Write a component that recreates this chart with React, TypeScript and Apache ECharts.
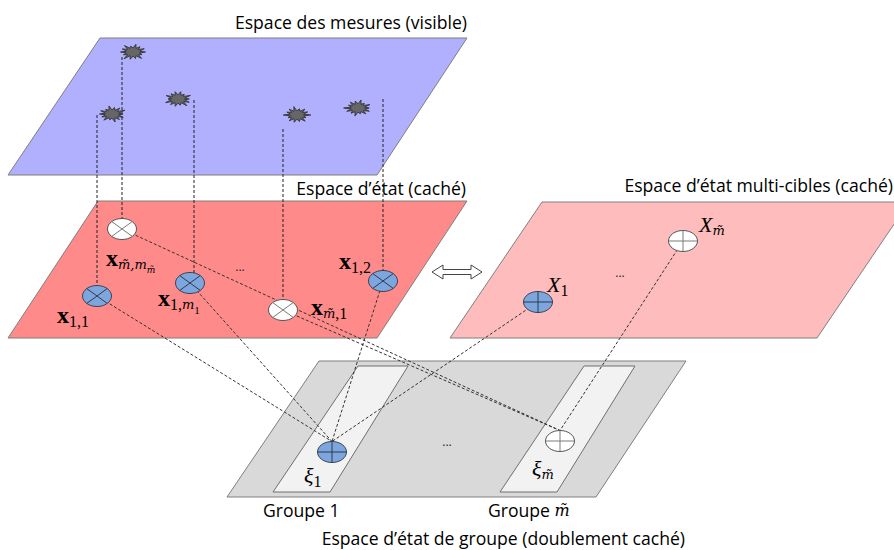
import { useEffect, useRef } from "react";
import * as echarts from "echarts";

// ---- diagram data (in the hidden 894 x 550 value space) ----
const PLANE_NAMES = ["mesures", "etat", "multi", "groupe", "strip1", "strip2"];
const PLANE_POINTS = [
  [[100, 38], [467, 38], [377, 175], [8, 175]],
  [[98, 201], [467, 201], [377, 338], [8, 338]],
  [[542, 202], [909, 202], [817, 338], [450, 338]],
  [[319, 361], [686, 361], [596, 497], [227, 497]],
  [[358, 366], [408, 366], [330, 492], [273, 492]],
  [[584, 366], [635, 366], [557, 492], [500, 492]],
];

const MEASURES = [[133, 52], [178, 99], [112, 114], [297, 115], [358, 108]];

// x, top y, bottom y of vertical projection lines
const PROJECTIONS = [[97, 115, 296], [122, 57, 229], [194, 100, 276], [283, 129, 310], [383, 99, 281]];

const NODE_IDS = ["xmm", "x11", "x1m", "xm1", "x12", "X1", "Xm", "xi1", "xim"];
const NODE_POS = [[122, 229], [97, 296], [190, 283], [283, 310], [383, 281], [538, 302], [683, 241], [332, 452], [560, 441]];
const EDGES = [["x11", "xi1"], ["x1m", "xi1"], ["x12", "xi1"], ["X1", "xi1"], ["xmm", "xim"], ["xm1", "xim"], ["Xm", "xim"]];

const ARROW = [[432, 272], [443, 265], [443, 269.5], [471, 269.5], [471, 265], [482, 272], [471, 279], [471, 274.5], [443, 274.5], [443, 279]];

const TITLES = ["Espace des mesures (visible)", "Espace d\u2019\u00e9tat (caché)", "Espace d\u2019\u00e9tat multi-cibles (caché)", "Espace d\u2019\u00e9tat de groupe (doublement caché)"];
const TITLE_ANCHORS = [[467, 22], [466, 188], [893, 185], [685, 538]];

const GROUP_LABELS = ["Groupe 1", "Groupe {mi|m\u0303}"];
const GROUP_ANCHORS = [[263, 510], [488, 510]];

const MATH_LABELS = [
  "{b|x}{s|1,1}",
  "{b|x}{s|1,}{si|m}{ss|1}",
  "{b|x}{s|1,2}",
  "{b|x}{si|m\u0303}{s|,1}",
  "{b|x}{si|m\u0303,m}{ssi|m\u0303}",
  "{I|X}{s|1}",
  "{I|X}{si|m\u0303}",
  "{I|\u03be}{s|1}",
  "{I|\u03be}{si|m\u0303}",
];
const MATH_ANCHORS = [[57, 315], [158, 298], [339, 261], [311, 307], [106, 258], [547, 284], [699, 224], [304, 475], [532, 468]];

const DOTS = [[240, 266], [620, 272], [447, 441]];

// ---- styles ----
const PLANE_FILL: Record<string, string> = {
  mesures: "#b0b0fe",
  etat: "#fe8a8a",
  multi: "#ffbcbc",
  groupe: "#d9d9d9",
  strip1: "#f2f2f2",
  strip2: "#f2f2f2",
};
const BLUE_NODES = new Set(["x11", "x1m", "x12", "X1", "xi1"]);
const OTIMES_NODES = new Set(["xmm", "x11", "x1m", "xm1", "x12"]);
const RX = 14.5;
const RY = 10.5;
const SERIF = "'Liberation Serif', 'DejaVu Serif', serif";
const DSERIF = "'DejaVu Serif', 'Liberation Serif', serif";
const SANS = "'Open Sans', 'Liberation Sans', sans-serif";

const RICH = {
  b: { fontFamily: SERIF, fontWeight: "bold", fontSize: 24, color: "#000" },
  s: { fontFamily: SERIF, fontSize: 16, padding: [12, 0, 0, 0], color: "#000" },
  si: { fontFamily: DSERIF, fontStyle: "italic", fontSize: 13, padding: [12, 0, 0, 0], color: "#000" },
  ss: { fontFamily: SERIF, fontSize: 11, padding: [24, 0, 0, 0], color: "#000" },
  ssi: { fontFamily: DSERIF, fontStyle: "italic", fontSize: 9, padding: [24, 0, 0, 0], color: "#000" },
  I: { fontFamily: SERIF, fontStyle: "italic", fontSize: 22, color: "#000" },
  mi: { fontFamily: DSERIF, fontStyle: "italic", fontSize: 16, color: "#000" },
};

const JAG = [1, 0.8, 1.1, 0.9, 1, 1.15, 0.85, 1, 0.95, 1.1, 0.8, 1.05, 0.9, 1];

function nodePos(id: string) {
  return NODE_POS[NODE_IDS.indexOf(id)];
}

export default function App() {
  const ref = useRef<HTMLDivElement>(null);
  useEffect(() => {
    if (!ref.current) return;
    const chart = echarts.init(ref.current, undefined, { renderer: "svg" });
    const idx = (arr: any[]) => arr.map((_, i) => [i, 0]);
    const option: any = {
      animation: false,
      backgroundColor: "#ffffff",
      grid: { left: 0, right: 0, top: 0, bottom: 0, containLabel: false },
      xAxis: { type: "value", min: 0, max: 894, show: false },
      yAxis: { type: "value", min: 0, max: 550, inverse: true, show: false },
      series: [
        {
          type: "custom",
          name: "planes",
          coordinateSystem: "cartesian2d",
          clip: false,
          silent: true,
          z: 1,
          data: idx(PLANE_POINTS),
          renderItem: (params: any, api: any) => {
            const i = params.dataIndex;
            return {
              type: "polygon",
              shape: { points: PLANE_POINTS[i].map((p) => api.coord(p)) },
              style: { fill: PLANE_FILL[PLANE_NAMES[i]], stroke: i >= 4 ? "#6f6f6f" : "#7f7f7f", lineWidth: 1 },
            };
          },
        },
        {
          type: "custom",
          name: "projections",
          coordinateSystem: "cartesian2d",
          clip: false,
          silent: true,
          z: 2,
          data: idx(PROJECTIONS),
          renderItem: (params: any, api: any) => {
            const [x, y0, y1] = PROJECTIONS[params.dataIndex];
            const a = api.coord([x, y0]);
            const b = api.coord([x, y1]);
            return {
              type: "line",
              shape: { x1: a[0], y1: a[1], x2: b[0], y2: b[1] },
              style: { stroke: "#222", lineWidth: 1, lineDash: [3, 2] },
            };
          },
        },
        {
          type: "custom",
          name: "edges",
          coordinateSystem: "cartesian2d",
          clip: false,
          silent: true,
          z: 2,
          data: idx(EDGES),
          renderItem: (params: any, api: any) => {
            const [s, t] = EDGES[params.dataIndex];
            const ps = nodePos(s);
            const pt = nodePos(t);
            const a = api.coord(ps);
            const b = api.coord([pt[0], pt[1] - RY]);
            return {
              type: "line",
              shape: { x1: a[0], y1: a[1], x2: b[0], y2: b[1] },
              style: { stroke: "#333", lineWidth: 1, lineDash: [3, 2] },
            };
          },
        },
        {
          type: "custom",
          name: "measures",
          coordinateSystem: "cartesian2d",
          clip: false,
          silent: true,
          z: 3,
          data: idx(MEASURES),
          renderItem: (params: any, api: any) => {
            const c = api.coord(MEASURES[params.dataIndex]);
            const n = 14;
            const pts: number[][] = [];
            for (let k = 0; k < 2 * n; k++) {
              const ang = (k * Math.PI) / n;
              const r = k % 2 === 0 ? JAG[(k / 2 + params.dataIndex * 3) % JAG.length] : 0.55;
              pts.push([c[0] + 12.5 * r * Math.cos(ang), c[1] + 7.5 * r * Math.sin(ang)]);
            }
            return {
              type: "polygon",
              shape: { points: pts },
              style: { fill: "#666666", stroke: "#2a2a2a", lineWidth: 0.8 },
            };
          },
        },
        {
          type: "custom",
          name: "nodes",
          coordinateSystem: "cartesian2d",
          clip: false,
          silent: true,
          z: 4,
          data: idx(NODE_IDS),
          renderItem: (params: any, api: any) => {
            const id = NODE_IDS[params.dataIndex];
            const c = api.coord(NODE_POS[params.dataIndex]);
            const blue = BLUE_NODES.has(id);
            const ot = OTIMES_NODES.has(id);
            const crossColor = blue ? "#2f3a4a" : "#7a7a7a";
            const d = Math.SQRT1_2;
            const lines = ot
              ? [
                  [c[0] - RX * d, c[1] - RY * d, c[0] + RX * d, c[1] + RY * d],
                  [c[0] - RX * d, c[1] + RY * d, c[0] + RX * d, c[1] - RY * d],
                ]
              : [
                  [c[0] - RX, c[1], c[0] + RX, c[1]],
                  [c[0], c[1] - RY, c[0], c[1] + RY],
                ];
            return {
              type: "group",
              children: [
                {
                  type: "ellipse",
                  shape: { cx: c[0], cy: c[1], rx: RX, ry: RY },
                  style: { fill: blue ? "#7ea6de" : "#ffffff", stroke: blue ? "#3b4453" : "#555", lineWidth: 1 },
                },
                ...lines.map((l) => ({
                  type: "line",
                  shape: { x1: l[0], y1: l[1], x2: l[2], y2: l[3] },
                  style: { stroke: crossColor, lineWidth: 1 },
                })),
              ],
            };
          },
        },
        {
          type: "custom",
          name: "arrow",
          coordinateSystem: "cartesian2d",
          clip: false,
          silent: true,
          z: 4,
          data: [[0, 0]],
          renderItem: (_params: any, api: any) => ({
            type: "polygon",
            shape: { points: ARROW.map((p) => api.coord(p)) },
            style: { fill: "#ffffff", stroke: "#444", lineWidth: 1 },
          }),
        },
        {
          type: "custom",
          name: "titles",
          coordinateSystem: "cartesian2d",
          clip: false,
          silent: true,
          z: 5,
          data: idx(TITLES),
          renderItem: (params: any, api: any) => {
            const c = api.coord(TITLE_ANCHORS[params.dataIndex]);
            return {
              type: "text",
              x: c[0],
              y: c[1],
              style: {
                text: TITLES[params.dataIndex],
                fontFamily: SANS,
                fontSize: 17.6,
                fill: "#000",
                align: "right",
                verticalAlign: "middle",
              },
            };
          },
        },
        {
          type: "custom",
          name: "groups",
          coordinateSystem: "cartesian2d",
          clip: false,
          silent: true,
          z: 5,
          data: idx(GROUP_LABELS),
          renderItem: (params: any, api: any) => {
            const c = api.coord(GROUP_ANCHORS[params.dataIndex]);
            return {
              type: "text",
              x: c[0],
              y: c[1],
              style: {
                text: GROUP_LABELS[params.dataIndex],
                fontFamily: SANS,
                fontSize: 17.6,
                fill: "#000",
                align: "left",
                verticalAlign: "middle",
                rich: RICH,
              },
            };
          },
        },
        {
          type: "custom",
          name: "math",
          coordinateSystem: "cartesian2d",
          clip: false,
          silent: true,
          z: 5,
          data: idx(MATH_LABELS),
          renderItem: (params: any, api: any) => {
            const c = api.coord(MATH_ANCHORS[params.dataIndex]);
            return {
              type: "text",
              x: c[0],
              y: c[1],
              style: {
                text: MATH_LABELS[params.dataIndex],
                fontFamily: SERIF,
                fontSize: 14,
                fill: "#000",
                align: "left",
                verticalAlign: "middle",
                rich: RICH,
              },
            };
          },
        },
        {
          type: "custom",
          name: "dots",
          coordinateSystem: "cartesian2d",
          clip: false,
          silent: true,
          z: 5,
          data: idx(DOTS),
          renderItem: (params: any, api: any) => {
            const c = api.coord(DOTS[params.dataIndex]);
            return {
              type: "text",
              x: c[0],
              y: c[1],
              style: { text: "...", fontFamily: SANS, fontSize: 12, fill: "#222", align: "center", verticalAlign: "middle" },
            };
          },
        },
      ],
    };
    chart.setOption(option);
    return () => chart.dispose();
  }, []);
  return (
    <div
      ref={ref}
      style={{ position: "fixed", left: 0, top: 0, width: 894, height: 550, background: "#fff" }}
    />
  );
}
